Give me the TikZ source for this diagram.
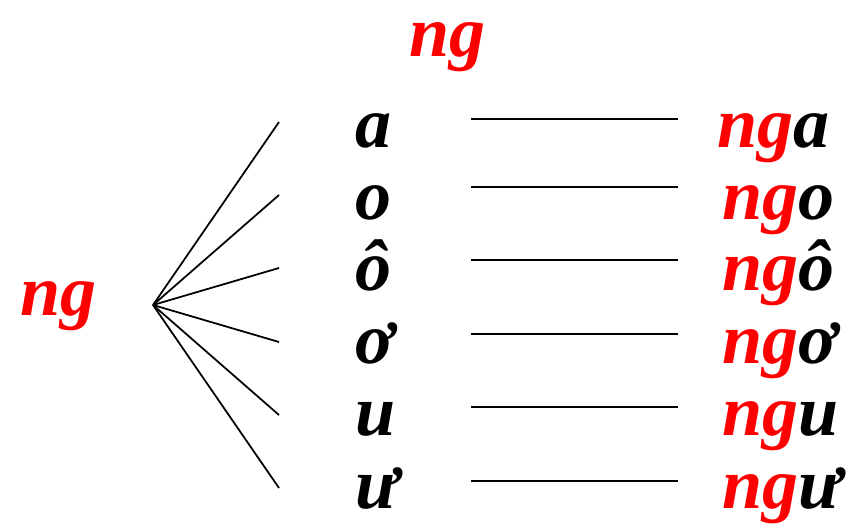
\documentclass[tikz,border=0pt]{standalone}
\usepackage{fontspec}
\setmainfont{Liberation Serif}
\usepackage{xcolor}
\usepackage{tikz}
\usetikzlibrary{positioning}
\definecolor{vermelho}{RGB}{255,0,0}
\tikzset{
  letra/.style={anchor=base west, inner sep=0pt, font=\bfseries\itshape\fontsize{41}{48}\selectfont},
  consoante/.style={letra, text=vermelho},
  traco/.style={line width=1pt, black},
}
\newcommand{\ngv}[1]{\textcolor{vermelho}{ng}#1}

\begin{document}
\begin{tikzpicture}
  \useasboundingbox (0,0) rectangle (17.12,-10.62);

  % consoante inicial
  \node[consoante] (ngesq) at (0.40,-6.30) {ng};
  \node[consoante] (ngtopo) at (8.18,-1.12) {ng};

  % leque de linhas
  \coordinate (hub) at (3.06,-6.10);
  \coordinate (f1) at (5.58,-2.44);
  \coordinate (f2) at (5.58,-3.90);
  \coordinate (f3) at (5.58,-5.36);
  \coordinate (f4) at (5.58,-6.84);
  \coordinate (f5) at (5.58,-8.30);
  \coordinate (f6) at (5.58,-9.76);
  \foreach \i in {1,...,6} \draw[traco] (hub) -- (f\i);

  % vogais
  \node[letra] (v1) at (7.10,-2.94) {a};
  \node[letra] (v2) at (7.10,-4.38) {o};
  \node[letra] (v3) at (7.10,-5.80) {ô};
  \node[letra] (v4) at (7.10,-7.26) {ơ};
  \node[letra] (v5) at (7.10,-8.70) {u};
  \node[letra] (v6) at (7.10,-10.16) {ư};

  % resultados
  \node[letra] (w1) at (14.34,-2.94) {\ngv{a}};
  \node[letra] (w2) at (14.44,-4.38) {\ngv{o}};
  \node[letra] (w3) at (14.44,-5.80) {\ngv{ô}};
  \node[letra] (w4) at (14.44,-7.26) {\ngv{ơ}};
  \node[letra] (w5) at (14.44,-8.70) {\ngv{u}};
  \node[letra] (w6) at (14.44,-10.16) {\ngv{ư}};

  % tracos horizontais
  \coordinate (a1) at (9.42,-2.38);  \coordinate (b1) at (13.56,-2.38);
  \coordinate (a2) at (9.42,-3.74);  \coordinate (b2) at (13.56,-3.74);
  \coordinate (a3) at (9.42,-5.20);  \coordinate (b3) at (13.56,-5.20);
  \coordinate (a4) at (9.42,-6.68);  \coordinate (b4) at (13.56,-6.68);
  \coordinate (a5) at (9.42,-8.14);  \coordinate (b5) at (13.56,-8.14);
  \coordinate (a6) at (9.42,-9.62);  \coordinate (b6) at (13.56,-9.62);
  \foreach \i in {1,...,6} \draw[traco] (a\i) -- (b\i);
\end{tikzpicture}
\end{document}
